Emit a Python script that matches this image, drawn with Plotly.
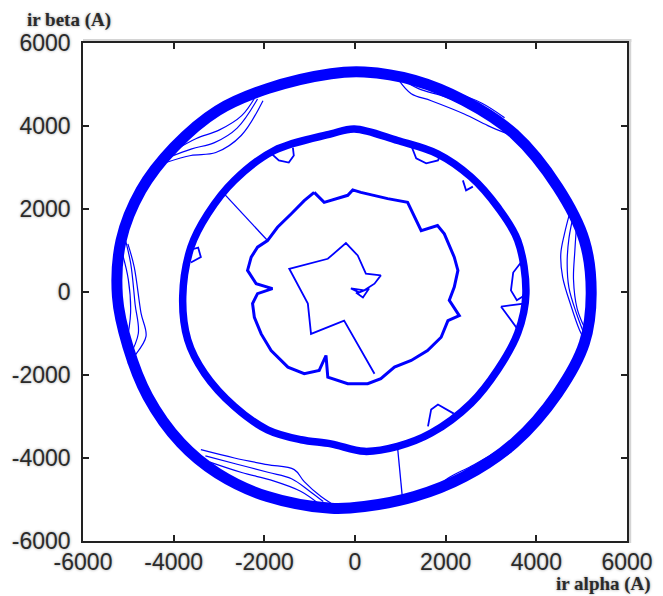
import plotly.graph_objects as go

# ---------------- data (A) ----------------
tick_vals = [-6000, -4000, -2000, 0, 2000, 4000, 6000]
tick_text = ["-6000", "-4000", "-2000", "0", "2000", "4000", "6000"]

# outer trajectory (centre line of the thick band)
outer_x = [-530, 205, 1310, 2410, 3510, 4470, 5060, 5210, 5060, 4470, 3510, 2410, 1310,
           205, -530, -1930, -3030, -3840, -4570, -5010, -5240, -5160, -4720, -3990,
           -3030, -1930, -530]
outer_y = [5260, 5300, 5100, 4610, 3810, 2530, 1240, -40, -1230, -2440, -3640, -4450,
           -4930, -5170, -5210, -4930, -4370, -3640, -2520, -1310, -110, 1240, 2450,
           3490, 4370, 4900, 5260]

# thin excursions of the outer trajectory (six sites)
ol_x = [-4170, -3620, -3070, -2510, -2030, None, -4100, -3600, -3100, -2600, -2150, None,
        -4000, -3500, -3000, -2500, -2200, None,
        970, 1240, 1680, 2410, 2930, 3370, None, 1000, 1400, 2000, 2600, 3200, 3500, None,
        1100, 1600, 2200, 2800, 3300, None,
        4770, 4620, 4540, 4580, 4770, 4950, 5060, None, 4850, 4720, 4680, 4720, 4880, 5050, None,
        4900, 4850, 4820, 4900, 5080, None,
        -5010, -4870, -4720, -4610, -4870, -5010, None, -5100, -4950, -4850, -4780, -5000, None,
        -5150, -5000, -4950, -5050, None,
        -3400, -2660, -1930, -1340, -1120, -750, -530, None, -3300, -2600, -1900, -1400, -1000, -700, None,
        -3200, -2500, -1800, -1200, -800, None,
        1680, 2050, 2560, 3070, 3440, 3590, None, 1800, 2200, 2700, 3200, 3600, None,
        2000, 2500, 3000, 3450]
ol_y = [3120, 3290, 3360, 3770, 4610, None, 3250, 3450, 3600, 3950, 4650, None,
        3400, 3700, 3900, 4250, 4700, None,
        5100, 4780, 4610, 4290, 4010, 3810, None, 5150, 4900, 4700, 4400, 4050, 3800, None,
        5150, 4950, 4800, 4550, 4200, None,
        2040, 1400, 920, 360, -350, -910, -1150, None, 2000, 1300, 700, 100, -500, -1000, None,
        1800, 1000, 300, -400, -900, None,
        1160, 600, -510, -1070, -1550, -1720, None, 1400, 700, -300, -1000, -1600, None,
        1000, 300, -500, -1300, None,
        -3800, -4000, -4160, -4280, -4570, -4930, -5090, None, -3950, -4150, -4350, -4500, -4800, -5050, None,
        -4100, -4350, -4550, -4800, -5100, None,
        -4850, -4490, -4200, -3880, -3640, -3560, None, -4750, -4500, -4250, -3950, -3650, None,
        -4650, -4400, -4150, -3850]

# middle trajectory
mid_x = [-530, -15, 940, 1820, 2560, 3150, 3590, 3770, 3590, 3150, 2560, 1680, 940, 205,
         -530, -1190, -1930, -2660, -3320, -3690, -3800, -3620, -3250, -2660, -1780, -530]
mid_y = [3810, 3930, 3650, 3330, 2770, 2040, 1240, -40, -990, -1870, -2680, -3400, -3720,
         -3840, -3660, -3560, -3320, -2760, -1960, -1150, -110, 1080, 1880, 2690, 3410, 3810]

# small excursions of the middle trajectory
mb_x = [-1850, -1680, -1460, -1350, -1370, None, 1240, 1350, 1570, 1830, 1900, None,
        2380, 2450, 2600, None, 3660, 3490, 3440, 3570, 3700, None,
        3220, 3730, 3590, 3220, None, 1610, 1680, 1830, 2180, None,
        -3680, -3460, -3400, -3620]
mb_y = [3340, 3170, 3120, 3290, 3480, None, 3530, 3220, 3100, 3170, 3340, None,
        2690, 2450, 2540, None, 710, 470, 40, -200, -110, None,
        -350, -280, -900, -350, None, -3240, -2830, -2710, -2930, None,
        1000, 1070, 840, 710]

# inner trajectory
inner_x = [-900, -680, -160, -50, 130, 720, 1160, 1310, 1460, 1820, 1970, 2190, 2270, 2190,
           2080, 2300, 2050, 1900, 1600, 1240, 870, 570, 280, -160, -600, -640, -790, -1120,
           -1480, -1850, -2070, -2220, -2260, -2150, -1820, -2180, -2370, -2290, -2150,
           -1930, -1710, -1410, -1120, -900]
inner_y = [2400, 2160, 2330, 2460, 2400, 2250, 2160, 1800, 1480, 1600, 1400, 840, 520, 120,
           -200, -570, -690, -1090, -1410, -1650, -1810, -2090, -2210, -2210, -2050, -1530,
           -1890, -1970, -1810, -1410, -1010, -610, -280, -40, 80, 200, 520, 840, 1080,
           1240, 1560, 1880, 2200, 2400]

# transitions between trajectories
link_x = [-2890, -1930, None, 940, 1050]
link_y = [2370, 1240, None, -3760, -5010]

# start-up star and its link to the inner trajectory
star_x = [430, -240, -970, -1040, -1450, -1040, -600, -200, 60, 240, 570, 430, 205,
          -90, 90, 310, 175, 20]
star_y = [-1970, -690, -1010, -280, 560, 680, 800, 1180, 880, 440, 400, 200, 40,
          85, -10, 85, -130, -10]

# ---------------- figure ----------------
BLUE = "#0000FF"
fig = go.Figure()
fig.add_trace(go.Scatter(x=outer_x, y=outer_y, mode="lines",
                         line=dict(color=BLUE, width=11, shape="spline", smoothing=1.0)))
fig.add_trace(go.Scatter(x=ol_x, y=ol_y, mode="lines", connectgaps=False,
                         line=dict(color=BLUE, width=1.2, shape="spline")))
fig.add_trace(go.Scatter(x=mid_x, y=mid_y, mode="lines",
                         line=dict(color=BLUE, width=7.5, shape="spline", smoothing=1.0)))
fig.add_trace(go.Scatter(x=mb_x, y=mb_y, mode="lines", connectgaps=False,
                         line=dict(color=BLUE, width=1.8)))
fig.add_trace(go.Scatter(x=inner_x, y=inner_y, mode="lines",
                         line=dict(color=BLUE, width=3)))
fig.add_trace(go.Scatter(x=link_x, y=link_y, mode="lines", connectgaps=False,
                         line=dict(color=BLUE, width=1.3)))
fig.add_trace(go.Scatter(x=star_x, y=star_y, mode="lines",
                         line=dict(color=BLUE, width=1.8)))

tickfont = dict(family="Liberation Sans, Arial, sans-serif", size=23, color="#2a2a2a",
                shadow="0px 0px 3px #9a9a9a")
axis_common = dict(range=[-6000, 6000], tickvals=tick_vals, ticktext=tick_text,
                   ticks="inside", ticklen=6, tickwidth=1.5, tickcolor="#222",
                   showline=True, linecolor="#222", linewidth=1.6, mirror="ticks",
                   showgrid=False, zeroline=False, tickfont=tickfont, fixedrange=True,
                   automargin=False)

title_font = dict(family="Liberation Serif, Times New Roman, serif", size=19,
                  color="#2a2a2a", weight="bold", shadow="0px 0px 3px #9a9a9a")

# page body has an 8 px margin: figure is sized to fit the 663x596 window
fig.update_layout(
    width=655, height=588,
    margin=dict(l=75, r=36, t=35, b=55),
    paper_bgcolor="white", plot_bgcolor="white",
    showlegend=False,
    xaxis=dict(**axis_common, ticklabelstandoff=0),
    yaxis=dict(**axis_common, ticklabelstandoff=6),
    shapes=[
        dict(type="line", xref="paper", yref="paper", x0=0.0, x1=1.008, y0=1.005, y1=1.005,
             line=dict(color="#d4d4d4", width=3), layer="below"),
        dict(type="line", xref="paper", yref="paper", x0=1.005, x1=1.005, y0=-0.004, y1=1.008,
             line=dict(color="#d4d4d4", width=3), layer="below"),
    ],
    annotations=[
        dict(text="ir beta (A)", xref="paper", yref="paper", x=-0.107, y=1.0,
             xanchor="left", yanchor="bottom", yshift=10, showarrow=False, font=title_font),
        dict(text="ir alpha (A)", xref="paper", yref="paper", x=1.048, y=0.0,
             xanchor="right", yanchor="top", yshift=-30, showarrow=False, font=title_font),
    ],
)

fig.write_html("out.html")
